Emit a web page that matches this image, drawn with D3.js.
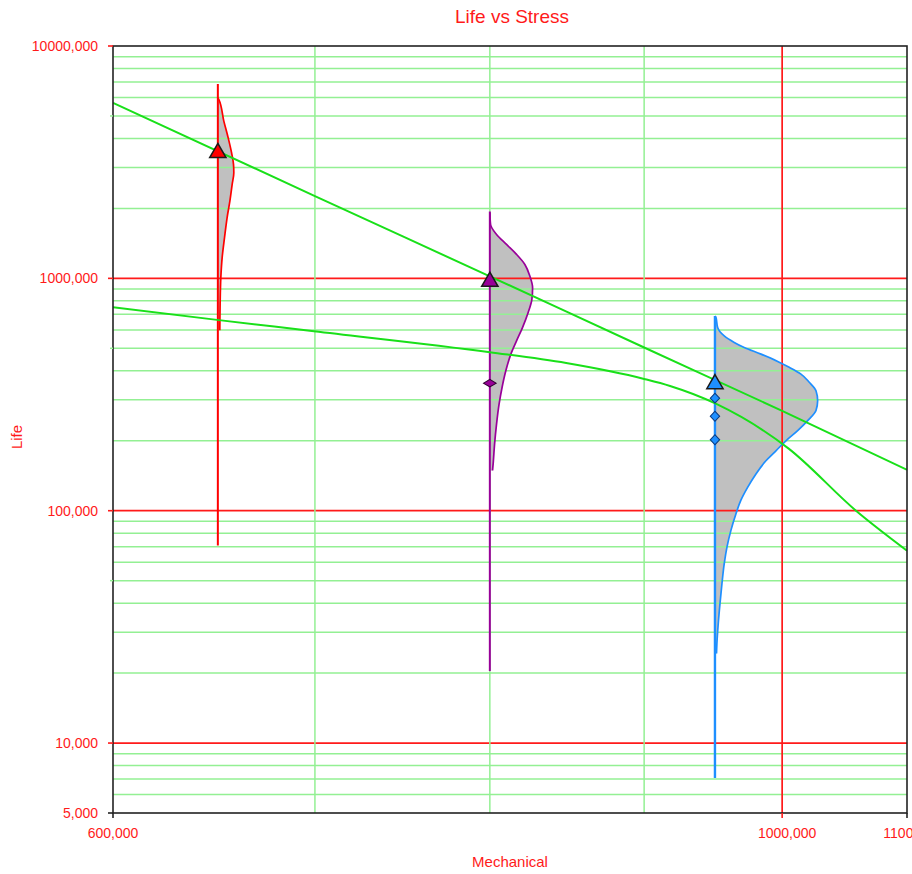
<!DOCTYPE html>
<html><head><meta charset="utf-8">
<script src="https://cdn.jsdelivr.net/npm/d3@7/dist/d3.min.js"></script>
<style>body{margin:0;background:#fff}</style>
</head><body><svg id="c" width="912" height="874"></svg>
<script>
// ---------- data ----------
const yTickValues = [5000, 10000, 100000, 1000000, 10000000];
const yTickLabels = ["5,000", "10,000", "100,000", "1000,000", "10000,000"];
const xTickValues = [600000, 1000000, 1100000];
const xTickLabels = ["600,000", "1000,000", "1100,000"];
const xMinorGrid = [700000, 800000, 900000];
const xMajorGrid = [1000000];

// fitted life lines
const fit1Stress = [600000, 700000, 800000, 900000, 1000000, 1100000];
const fit1Life = [5690000, 2260000, 1020000, 504000, 269000, 150000];
const fit2Stress = [600000, 650600, 699500, 800000, 848000, 900000, 918000, 951000, 1005000, 1058000, 1100000];
const fit2Life = [751000, 661000, 592000, 481000, 432000, 369000, 344000, 288000, 185000, 100000, 67300];

// stress levels
const stressLevels = [650000, 800000, 950000];

// level 1 (650,000)
const l1Span = [6870000, 70800];
const l1PdfLife = [6000000, 5884000, 4751000, 4029000, 3474000, 3095000, 2850000, 2539000, 2156000, 1827000, 1500000, 1231000, 1010000, 776000, 598000];
const l1PdfDensity = [0, 0.010, 0.058, 0.100, 0.133, 0.152, 0.155, 0.139, 0.117, 0.090, 0.065, 0.042, 0.029, 0.022, 0.019];
const l1Triangles = [3470000];
const l1Diamonds = [];

// level 2 (800,000)
const l2Span = [1940000, 20400];
const l2PdfLife = [1920000, 1705000, 1545000, 1399000, 1268000, 1148000, 1023000, 912000, 812000, 713000, 614000, 538000, 472000, 400000, 340000, 288000, 236000, 194000, 159000, 149000];
const l2PdfDensity = [0, 0.007, 0.065, 0.162, 0.259, 0.340, 0.388, 0.415, 0.408, 0.372, 0.317, 0.259, 0.204, 0.155, 0.119, 0.090, 0.065, 0.046, 0.032, 0.026];
const l2Triangles = [968000];
const l2Diamonds = [354000];

// level 3 (950,000)
const l3Span = [689000, 7080];
const l3PdfLife = [689000, 678000, 614000, 565000, 530000, 504000, 472000, 439000, 414000, 387000, 357000, 328000, 297000, 270000, 244000, 221000, 200000, 181000, 164000, 144000, 126000, 111000, 97100, 82300, 69900, 59200, 48600, 39900, 32700, 26900, 24300];
const l3PdfDensity = [0, 0.010, 0.026, 0.090, 0.187, 0.284, 0.447, 0.609, 0.721, 0.835, 0.916, 0.981, 0.997, 0.981, 0.900, 0.803, 0.689, 0.592, 0.495, 0.398, 0.317, 0.252, 0.204, 0.155, 0.117, 0.090, 0.068, 0.049, 0.032, 0.019, 0.015];
const l3Triangles = [351000];
const l3Diamonds = [305000, 255000, 202000];

// ---------- styles ----------
const levelColors = ["#ff0000", "#990099", "#1e8fff"];
const levelMarkerStroke = ["#330000", "#330033", "#0a3a80"];
const diamondScale = [[1, 1], [1.35, 0.8], [1, 1.05]];
const RED = "#ff1a1a", GRID_GREEN = "#93f093", FIT_GREEN = "#19e019";
const FONT = "'Liberation Sans', Arial, sans-serif";

const levels = [
  {s: stressLevels[0], span: l1Span, life: l1PdfLife, dens: l1PdfDensity, tri: l1Triangles, dia: l1Diamonds},
  {s: stressLevels[1], span: l2Span, life: l2PdfLife, dens: l2PdfDensity, tri: l2Triangles, dia: l2Diamonds},
  {s: stressLevels[2], span: l3Span, life: l3PdfLife, dens: l3PdfDensity, tri: l3Triangles, dia: l3Diamonds}
];

// ---------- layout ----------
const L = 113, T = 46, R = 907, B = 813;
const svg = d3.select("#c");
const x = d3.scaleLog().domain([600000, 1100000]).range([L, R]);
const y = d3.scaleLog().domain([5000, 10000000]).range([B, T]);
const pdfW = d3.scaleLinear().domain([0, 1]).range([0, 103]);

svg.append("defs").append("clipPath").attr("id", "clip")
  .append("rect").attr("x", L).attr("y", T).attr("width", R - L).attr("height", B - T);

const plot = svg.append("g").attr("clip-path", "url(#clip)");

// pdf fills (under grid)
levels.forEach(lv => {
  const pts = lv.life.map((v, i) => ({life: v, d: lv.dens[i]}));
  const area = d3.area()
    .y(p => y(p.life))
    .x0(() => x(lv.s))
    .x1(p => x(lv.s) + pdfW(p.d))
    .curve(d3.curveMonotoneY);
  plot.append("path").attr("d", area(pts)).attr("fill", "#c0c0c0").attr("stroke", "none");
});

// horizontal grid
const yMinor = y.ticks().filter(v => yTickValues.indexOf(v) < 0);
const yMajor = yTickValues.filter(v => v !== 5000 && v !== 10000000);
plot.selectAll(".hmin").data(yMinor).enter().append("line")
  .attr("x1", L).attr("x2", R).attr("y1", d => y(d)).attr("y2", d => y(d))
  .attr("stroke", GRID_GREEN).attr("stroke-width", 1.5);
plot.selectAll(".hmaj").data(yMajor).enter().append("line")
  .attr("x1", L).attr("x2", R).attr("y1", d => y(d)).attr("y2", d => y(d))
  .attr("stroke", RED).attr("stroke-width", 1.7);
// vertical grid
plot.selectAll(".vmin").data(xMinorGrid).enter().append("line")
  .attr("y1", T).attr("y2", B).attr("x1", d => x(d)).attr("x2", d => x(d))
  .attr("stroke", GRID_GREEN).attr("stroke-width", 1.5);
plot.selectAll(".vmaj").data(xMajorGrid).enter().append("line")
  .attr("y1", T).attr("y2", B).attr("x1", d => x(d)).attr("x2", d => x(d))
  .attr("stroke", RED).attr("stroke-width", 1.7);

// pdf outlines and vertical lines
levels.forEach((lv, k) => {
  const pts = lv.life.map((v, i) => ({life: v, d: lv.dens[i]}));
  const line = d3.line().y(p => y(p.life)).x(p => x(lv.s) + pdfW(p.d)).curve(d3.curveMonotoneY);
  plot.append("path").attr("d", line(pts)).attr("fill", "none")
    .attr("stroke", levelColors[k]).attr("stroke-width", 1.7);
  plot.append("line").attr("x1", x(lv.s)).attr("x2", x(lv.s))
    .attr("y1", y(lv.span[0])).attr("y2", y(lv.span[1]))
    .attr("stroke", levelColors[k]).attr("stroke-width", k === 2 ? 2.4 : 2);
});

// fit lines
const fitLine = d3.line().x(d => x(d[0])).y(d => y(d[1])).curve(d3.curveMonotoneX);
plot.append("path").attr("d", fitLine(fit1Stress.map((s, i) => [s, fit1Life[i]])))
  .attr("fill", "none").attr("stroke", FIT_GREEN).attr("stroke-width", 2);
plot.append("path").attr("d", fitLine(fit2Stress.map((s, i) => [s, fit2Life[i]])))
  .attr("fill", "none").attr("stroke", FIT_GREEN).attr("stroke-width", 2);

// markers
const triSym = d3.symbol().type(d3.symbolTriangle).size(115);
const diaSym = d3.symbol().type(d3.symbolSquare).size(44);
levels.forEach((lv, k) => {
  lv.dia.forEach(v => {
    svg.append("path").attr("d", diaSym())
      .attr("transform", `translate(${x(lv.s)},${y(v)}) scale(${diamondScale[k][0]},${diamondScale[k][1]}) rotate(45)`)
      .attr("fill", levelColors[k]).attr("stroke", levelMarkerStroke[k]).attr("stroke-width", 1);
  });
  lv.tri.forEach(v => {
    svg.append("path").attr("d", triSym())
      .attr("transform", `translate(${x(lv.s)},${y(v)})`)
      .attr("fill", levelColors[k]).attr("stroke", "#1a1a1a").attr("stroke-width", 1.5);
  });
});

// frame
svg.append("rect").attr("x", L).attr("y", T).attr("width", R - L).attr("height", B - T)
  .attr("fill", "none").attr("stroke", "#222").attr("stroke-width", 1.6);

// y ticks
yTickValues.forEach((v, i) => {
  const isEnd = (v === 5000);
  svg.append("line").attr("x1", L - 5).attr("x2", L).attr("y1", y(v)).attr("y2", y(v))
    .attr("stroke", isEnd ? "#222" : RED).attr("stroke-width", 1.6);
  svg.append("text").attr("x", 98).attr("y", y(v)).attr("dy", "0.35em")
    .attr("text-anchor", "end").attr("fill", RED)
    .attr("font-family", FONT).attr("font-size", 14).text(yTickLabels[i]);
});
y.ticks().filter(v => Math.round(v / Math.pow(10, Math.floor(Math.log10(v) + 1e-9))) === 5 && v > 5000)
  .forEach(v => {
    svg.append("line").attr("x1", L - 3).attr("x2", L).attr("y1", y(v)).attr("y2", y(v))
      .attr("stroke", GRID_GREEN).attr("stroke-width", 1.5);
  });
// x ticks
xTickValues.forEach((v, i) => {
  svg.append("line").attr("x1", x(v)).attr("x2", x(v)).attr("y1", B).attr("y2", B + 5)
    .attr("stroke", v === 1000000 ? RED : "#222").attr("stroke-width", 1.6);
  svg.append("text").attr("x", x(v) + (i === 0 ? 0 : 5)).attr("y", B + 25)
    .attr("text-anchor", "middle").attr("fill", RED)
    .attr("font-family", FONT).attr("font-size", 14).text(xTickLabels[i]);
});

// titles
svg.append("text").attr("x", 512).attr("y", 23).attr("text-anchor", "middle")
  .attr("fill", RED).attr("font-family", FONT).attr("font-size", 19).text("Life vs Stress");
svg.append("text").attr("x", 510).attr("y", 867).attr("text-anchor", "middle")
  .attr("fill", RED).attr("font-family", FONT).attr("font-size", 15).text("Mechanical");
svg.append("text").attr("transform", "translate(22,437) rotate(-90)").attr("text-anchor", "middle")
  .attr("fill", RED).attr("font-family", FONT).attr("font-size", 15).text("Life");
</script></body></html>
